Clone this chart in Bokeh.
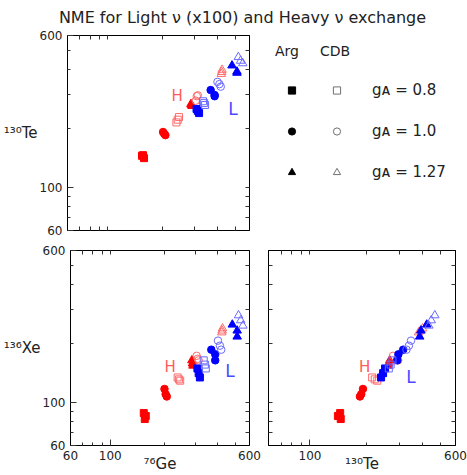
from bokeh.plotting import figure
from bokeh.models import (Range1d, LogAxis, FixedTicker, PrintfTickFormatter, Label,
                          Legend, LegendItem, ColumnDataSource)
from bokeh.layouts import column, row
from bokeh.embed import file_html
from bokeh.resources import INLINE

# ---------------- data (3 calculations per g_A; order g_A = 0.8, 1.0, 1.27) ----------------
GA_LABELS = ["0.8", "1.0", "1.27"]

# Heavy neutrino exchange (H)
H_ARG_GE = [154, 156, 158, 201, 204, 207, 286, 288, 290]
H_ARG_TE = [145, 146, 141, 192, 188, 185, 267, 264, 261]
H_ARG_XE = [88, 82, 85, 117, 110, 107, 164, 158, 154]
H_CDB_GE = [238, 242, 246, 304, 308, 312, 420, 422, 424]
H_CDB_TE = [215, 222, 229, 278, 293, 296, 381, 390, 400]
H_CDB_XE = [134, 131, 129, 173, 167, 164, 228, 233, 239]
# Light neutrino exchange (L), x100
L_ARG_GE = [307, 312, 317, 367, 386, 386, 481, 512, 512]
L_ARG_TE = [252, 246, 240, 315, 297, 293, 421, 392, 386]
L_ARG_XE = [149, 141, 134, 186, 176, 164, 250, 233, 217]
L_CDB_GE = [333, 338, 342, 400, 410, 417, 521, 536, 551]
L_CDB_TE = [276, 270, 264, 347, 338, 328, 465, 445, 432]
L_CDB_XE = [164, 156, 149, 207, 195, 186, 279, 263, 247]

MAJOR_TICKS = [60, 100, 600]
MINOR_TICKS = [70, 80, 90, 200, 300, 400, 500]
ALL_TICKS = [70, 80, 90, 100, 200, 300, 400, 500]

TITLE = "NME for Light \u03bd (x100) and Heavy \u03bd exchange"
LBL_GE = "\u2077\u2076Ge"
LBL_TE = "\u00b9\u00b3\u2070Te"
LBL_XE = "\u00b9\u00b3\u2076Xe"

# ---------------- styles ----------------
FONT = "DejaVu Sans"
MARKERS = ["square", "circle", "triangle"]
MSIZE = [7, 7.5, 8.5]
COL = {("H", "Arg"): ("#ff0000", "#ff0000"), ("H", "CDB"): (None, "#ff6a6a"),
       ("L", "Arg"): ("#0000ff", "#0000ff"), ("L", "CDB"): (None, "#6a6aff")}

DATA = {
    "Ge": {("H", "Arg"): H_ARG_GE, ("H", "CDB"): H_CDB_GE, ("L", "Arg"): L_ARG_GE, ("L", "CDB"): L_CDB_GE},
    "Te": {("H", "Arg"): H_ARG_TE, ("H", "CDB"): H_CDB_TE, ("L", "Arg"): L_ARG_TE, ("L", "CDB"): L_CDB_TE},
    "Xe": {("H", "Arg"): H_ARG_XE, ("H", "CDB"): H_CDB_XE, ("L", "Arg"): L_ARG_XE, ("L", "CDB"): L_CDB_XE},
}


def base_axis(ax):
    ax.formatter = PrintfTickFormatter(format="%d")
    ax.major_tick_out = 0
    ax.minor_tick_out = 0
    ax.major_tick_in = 6
    ax.minor_tick_in = 3
    ax.major_tick_line_color = "#333333"
    ax.minor_tick_line_color = "#333333"
    ax.axis_line_color = "black"


def labelled_axis(ax, ticks, label, label_standoff):
    base_axis(ax)
    ax.ticker = FixedTicker(ticks=ticks, minor_ticks=MINOR_TICKS)
    ax.major_label_text_font = FONT
    ax.major_label_text_font_size = "12px"
    ax.major_label_text_color = "#222222"
    ax.major_label_standoff = 5
    if label:
        ax.axis_label = label
        ax.axis_label_text_font = FONT
        ax.axis_label_text_font_size = "15px"
        ax.axis_label_text_font_style = "normal"
        ax.axis_label_text_color = "#222222"
        ax.axis_label_standoff = label_standoff
    else:
        ax.axis_label = None


def bare_axis(ax):
    # ticks only (all drawn as minor ticks, so no tick labels at all)
    base_axis(ax)
    ax.ticker = FixedTicker(ticks=[], minor_ticks=ALL_TICKS)
    ax.minor_tick_in = 4
    ax.major_label_standoff = 0
    ax.axis_label = None


def panel(xn, yn, width, height, bl, br, bt, bb, xlab, ylab, xticks, hl):
    p = figure(width=width, height=height, x_axis_type="log", y_axis_type="log",
               x_range=Range1d(60, 600), y_range=Range1d(60, 600),
               toolbar_location=None, output_backend="svg",
               min_border_left=bl, min_border_right=br, min_border_top=bt, min_border_bottom=bb)
    p.xgrid.visible = False
    p.ygrid.visible = False
    p.outline_line_color = "black"
    p.border_fill_color = "white"
    if xlab:
        labelled_axis(p.xaxis[0], xticks, xlab, -8)
    else:
        bare_axis(p.xaxis[0])
    if ylab:
        labelled_axis(p.yaxis[0], MAJOR_TICKS, ylab, -1)
        p.yaxis[0].axis_label_orientation = "horizontal"
    else:
        bare_axis(p.yaxis[0])
    top = LogAxis()
    bare_axis(top)
    p.add_layout(top, "above")
    right = LogAxis()
    bare_axis(right)
    p.add_layout(right, "right")

    for key in [("H", "Arg"), ("H", "CDB"), ("L", "Arg"), ("L", "CDB")]:
        fill, line = COL[key]
        xs, ys = DATA[xn][key], DATA[yn][key]
        for j, m in enumerate(MARKERS):
            src = ColumnDataSource(dict(x=xs[3 * j:3 * j + 3], y=ys[3 * j:3 * j + 3]))
            p.scatter("x", "y", source=src, marker=m, size=MSIZE[j],
                      fill_color=fill, line_color=line, line_width=1)
    (hx, hy), (lx, ly) = hl
    p.add_layout(Label(x=hx, y=hy, text="H", text_font=FONT, text_font_size="15px",
                       text_color="#ff5a5a", text_baseline="alphabetic"))
    p.add_layout(Label(x=lx, y=ly, text="L", text_font=FONT, text_font_size="17px",
                       text_color="#4a4aff", text_baseline="alphabetic"))
    return p


tl = panel("Ge", "Te", 261, 214, 61, 12, 9, 10, None, LBL_TE, MAJOR_TICKS,
           ((224, 294), (458, 252)))
bl = panel("Ge", "Xe", 261, 235, 61, 12, 10, 30, LBL_GE, LBL_XE, MAJOR_TICKS,
           ((201, 151), (439, 144)))
br = panel("Te", "Xe", 206, 235, 7, 12, 10, 30, LBL_TE, None, [100, 600],
           ((183, 151), (327, 135)))

# ---------------- title ----------------
tf = figure(width=467, height=26, x_range=Range1d(0, 1), y_range=Range1d(0, 1),
            x_axis_type=None, y_axis_type=None, min_border=0, outline_line_color=None,
            toolbar_location=None, output_backend="svg")
tf.add_layout(Label(x=242, y=9, x_units="screen", y_units="screen", text=TITLE,
                    text_font=FONT, text_font_size="16px", text_color="#222222",
                    text_align="center", text_baseline="alphabetic"))

# ---------------- legend panel ----------------
lg = figure(width=206, height=214, x_range=Range1d(0, 1), y_range=Range1d(0, 1),
            x_axis_type=None, y_axis_type=None, min_border=0, outline_line_color=None,
            toolbar_location=None, output_backend="svg")
# legend key renderers: fed with real values, which lie outside this panel's 0..1 range
arg_r = [lg.scatter(x=DATA["Ge"][("H", "Arg")], y=DATA["Te"][("H", "Arg")], marker=m,
                    fill_color="black", line_color="black") for m in MARKERS]
cdb_r = [lg.scatter(x=DATA["Ge"][("H", "CDB")], y=DATA["Te"][("H", "CDB")], marker=m,
                    fill_color=None, line_color="#707070", line_width=1) for m in MARKERS]


def make_legend(title, items, loc, standoff):
    return Legend(items=items, title=title, location=loc, padding=0, margin=0, spacing=23,
                  glyph_width=33, glyph_height=18, label_height=18, label_standoff=standoff,
                  title_standoff=22, border_line_color=None, background_fill_alpha=0,
                  title_text_font=FONT, title_text_font_size="14px", title_text_font_style="normal",
                  title_text_color="#222222",
                  label_text_font=FONT, label_text_font_size="15px", label_text_color="#222222")


legA = make_legend("Arg", [LegendItem(label=" ", renderers=[r]) for r in arg_r], (14, 49), 0)
legB = make_legend("CDB", [LegendItem(label="g\u1d00 = " + g, renderers=[r])
                           for r, g in zip(cdb_r, GA_LABELS)], (59, 49), 19)
lg.add_layout(legA)
lg.add_layout(legB)

layout = column(tf, row(tl, lg), row(bl, br))
open("out.html", "w").write(file_html(layout, INLINE))
